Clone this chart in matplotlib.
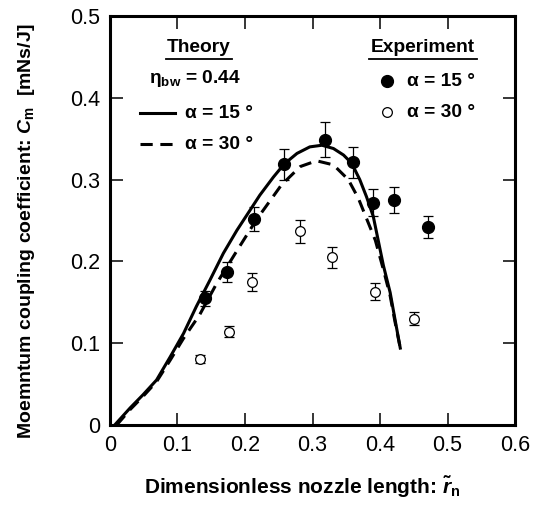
import numpy as np
import matplotlib.pyplot as plt
from matplotlib.lines import Line2D

plt.rcParams['font.family'] = ['Liberation Sans', 'DejaVu Sans']
plt.rcParams['mathtext.fontset'] = 'custom'
plt.rcParams['mathtext.rm'] = 'Liberation Sans:bold'
plt.rcParams['mathtext.it'] = 'Liberation Sans:italic:bold'
plt.rcParams['mathtext.bf'] = 'Liberation Sans:bold'

# theory curves
theory15_x = [0.007, 0.03, 0.049, 0.069, 0.089, 0.109, 0.128, 0.148, 0.168, 0.188,
              0.207, 0.222, 0.242, 0.258, 0.277, 0.296, 0.314, 0.331, 0.346, 0.358,
              0.370, 0.380, 0.390, 0.399, 0.405, 0.415, 0.422, 0.430]
theory15_y = [0.0, 0.021, 0.037, 0.055, 0.083, 0.112, 0.145, 0.177, 0.210, 0.238,
              0.262, 0.281, 0.303, 0.319, 0.332, 0.340, 0.342, 0.338, 0.330, 0.320,
              0.300, 0.279, 0.255, 0.219, 0.195, 0.162, 0.130, 0.094]
theory30_x = [0.01, 0.03, 0.049, 0.069, 0.089, 0.109, 0.133, 0.158, 0.188, 0.217,
              0.237, 0.254, 0.282, 0.306, 0.331, 0.353, 0.368, 0.380, 0.393, 0.405,
              0.415, 0.422, 0.430]
theory30_y = [0.0, 0.019, 0.035, 0.053, 0.079, 0.106, 0.135, 0.173, 0.213, 0.251,
              0.274, 0.2935, 0.316, 0.323, 0.318, 0.300, 0.277, 0.2525, 0.226, 0.190,
              0.158, 0.127, 0.094]

# experiment
exp15_x = [0.141, 0.174, 0.213, 0.258, 0.318, 0.360, 0.390, 0.421, 0.471]
exp15_y = [0.155, 0.187, 0.252, 0.319, 0.349, 0.321, 0.272, 0.275, 0.242]
exp15_err = [0.009, 0.012, 0.015, 0.019, 0.021, 0.019, 0.016, 0.016, 0.014]

exp30_x = [0.134, 0.177, 0.210, 0.282, 0.329, 0.393, 0.450]
exp30_y = [0.081, 0.114, 0.175, 0.237, 0.205, 0.163, 0.130]
exp30_err = [0.005, 0.007, 0.011, 0.014, 0.013, 0.010, 0.008]

fig = plt.figure(figsize=(5.41, 5.08), dpi=100)
ax = fig.add_axes([0.2033, 0.1634, 0.7487, 0.8051])

ax.plot(theory15_x, theory15_y, color='black', lw=2.2, solid_joinstyle='round')
ax.plot(theory30_x, theory30_y, color='black', lw=2.2, dashes=(4, 2.5))

ax.errorbar(exp15_x, exp15_y, yerr=exp15_err, fmt='o', color='black', ms=8.5,
            ecolor='black', elinewidth=0.9, capsize=3.5, capthick=0.9)
ax.errorbar(exp30_x, exp30_y, yerr=exp30_err, fmt='o', mfc='white', mec='black', ms=7,
            mew=0.9, ecolor='black', elinewidth=0.9, capsize=3.5, capthick=0.9)

ax.set_xlim(0, 0.6)
ax.set_ylim(0, 0.5)
ax.set_xticks([0, 0.1, 0.2, 0.3, 0.4, 0.5, 0.6])
ax.set_xticklabels(['0', '0.1', '0.2', '0.3', '0.4', '0.5', '0.6'])
ax.set_yticks([0, 0.1, 0.2, 0.3, 0.4, 0.5])
ax.set_yticklabels(['0', '0.1', '0.2', '0.3', '0.4', '0.5'])
ax.tick_params(direction='in', length=9, width=1.1, labelsize=15.5, pad=7,
               top=True, right=True)
for s in ax.spines.values():
    s.set_linewidth(2.2)

ax.set_xlabel(r'Dimensionless nozzle length: $\tilde{\mathit{r}}_\mathrm{n}$',
              fontsize=15, fontweight='bold')
ax.set_ylabel(r'Moemntum coupling coefficient: $\mathit{C}_\mathrm{m}$  [mNs/J]',
              fontsize=14, fontweight='bold')
ax.xaxis.set_label_coords(0.474, -0.12)
ax.yaxis.set_label_coords(-0.18, 0.474)

# legend drawn by hand
tr = ax.transAxes
fs = 13.8
ax.text(0.22, 0.924, 'Theory', transform=tr, ha='center', va='center',
        fontsize=fs, fontweight='bold')
ax.add_line(Line2D([0.138, 0.302], [0.895, 0.895], transform=tr, color='black', lw=1.3))
ax.text(0.773, 0.924, 'Experiment', transform=tr, ha='center', va='center',
        fontsize=fs, fontweight='bold')
ax.add_line(Line2D([0.64, 0.906], [0.895, 0.895], transform=tr, color='black', lw=1.3))

ax.text(0.097, 0.848, r'η$_{\mathrm{bw}}$ = 0.44', transform=tr, ha='left', va='center',
        fontsize=fs, fontweight='bold')
ax.add_line(Line2D([0.075, 0.16], [0.762, 0.762], transform=tr, color='black', lw=2.2))
ax.text(0.185, 0.762, 'α = 15 °', transform=tr, ha='left', va='center',
        fontsize=fs, fontweight='bold')
ax.add_line(Line2D([0.075, 0.16], [0.686, 0.686], transform=tr, color='black', lw=2.2,
                   dashes=(4, 2.5)))
ax.text(0.185, 0.686, 'α = 30 °', transform=tr, ha='left', va='center',
        fontsize=fs, fontweight='bold')

ax.plot([0.683], [0.841], 'o', color='black', ms=8.5, transform=tr)
ax.text(0.733, 0.841, 'α = 15 °', transform=tr, ha='left', va='center',
        fontsize=fs, fontweight='bold')
ax.plot([0.683], [0.765], 'o', mfc='white', mec='black', mew=0.9, ms=7, transform=tr)
ax.text(0.733, 0.765, 'α = 30 °', transform=tr, ha='left', va='center',
        fontsize=fs, fontweight='bold')

fig.savefig('out.png', dpi=100)
